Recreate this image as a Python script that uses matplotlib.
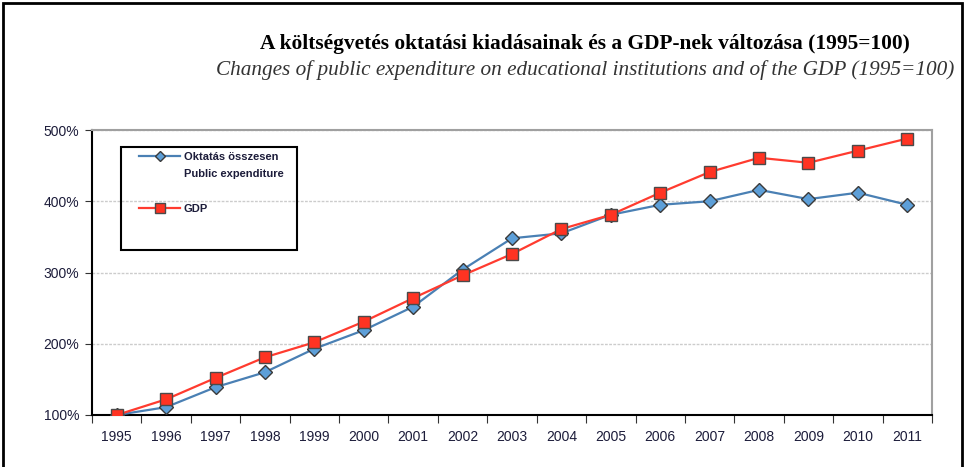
import matplotlib
matplotlib.use("Agg")
import matplotlib.pyplot as plt
from matplotlib.patches import Rectangle
from matplotlib.lines import Line2D
import numpy as np

YEARS = ["1995", "1996", "1997", "1998", "1999", "2000", "2001", "2002", "2003",
         "2004", "2005", "2006", "2007", "2008", "2009", "2010", "2011"]
EDUCATION = [100, 111, 139, 160, 193, 219, 252, 304, 348, 355, 381, 395, 400, 416, 403, 412, 395]
GDP = [100, 122, 152, 181, 202, 231, 264, 296, 326, 361, 381, 412, 441, 461, 454, 471, 488]
Y_TICKS = [100, 200, 300, 400, 500]

TITLE_HU = "A költségvetés oktatási kiadásainak és a GDP-nek változása (1995=100)"
TITLE_EN = "Changes of public expenditure on educational institutions and of the GDP (1995=100)"
LEGEND_LABELS = ["Oktatás összesen", "Public expenditure", "", "GDP"]

SANS = ["Liberation Sans", "DejaVu Sans"]
SERIF = ["Liberation Serif", "DejaVu Serif"]
TEXT_COL = "#1c1c3a"
BLUE, BLUE_FILL = "#4a80b4", "#5d9fd8"
RED, RED_FILL = "#ff3b2f", "#ff3322"

fig = plt.figure(figsize=(9.66, 4.67), dpi=100)
ax = fig.add_axes([92 / 966, 1 - 415 / 467, 840 / 966, 285 / 467])

x = np.arange(len(YEARS))
ax.plot(x, EDUCATION, color=BLUE, lw=1.6, marker="D", ms=7,
        mfc=BLUE_FILL, mec="#3a3a3a", mew=1.0, zorder=3)
ax.plot(x, GDP, color=RED, lw=1.6, marker="s", ms=9,
        mfc=RED_FILL, mec="#4a4a4a", mew=1.0, zorder=4)

ax.set_xlim(-0.5, len(YEARS) - 0.5)
ax.set_ylim(100, 500)
ax.set_yticks(Y_TICKS)
ax.set_yticklabels([f"{v}%" for v in Y_TICKS])
ax.set_xticks(x)
ax.set_xticklabels(YEARS)
ax.set_xticks(np.arange(-0.5, len(YEARS)), minor=True)
ax.tick_params(axis="x", which="major", length=0, pad=11)
ax.tick_params(axis="x", which="minor", length=6, width=0.8, color="#333333")
ax.tick_params(axis="y", length=5, width=0.8, color="#333333", pad=4)
for lab in ax.get_xticklabels() + ax.get_yticklabels():
    lab.set_family(SANS)
    lab.set_fontsize(10)
    lab.set_color(TEXT_COL)

ax.grid(axis="y", color="#cccccc", ls=(0, (2, 1)), lw=1.0)
ax.set_axisbelow(True)
for side in ["left", "bottom"]:
    ax.spines[side].set_color("black")
    ax.spines[side].set_linewidth(1.5)
for side in ["top", "right"]:
    ax.spines[side].set_color("#a0a0a0")
    ax.spines[side].set_linewidth(1.5)

# legend box
ax.add_patch(Rectangle((29 / 840, 1 - 120 / 285), 176 / 840, 103 / 285,
                       transform=ax.transAxes, fill=False, ec="black", lw=1.5, zorder=5))
handles = [Line2D([], [], color=BLUE, lw=1.6, marker="D", ms=5.5, mfc=BLUE_FILL, mec="#3a3a3a"),
           Line2D([], [], lw=0),
           Line2D([], [], lw=0),
           Line2D([], [], color=RED, lw=1.6, marker="s", ms=7, mfc=RED_FILL, mec="#4a4a4a")]
leg = ax.legend(handles, LEGEND_LABELS, loc="upper left",
                bbox_to_anchor=(45 / 840, 1 - 20 / 285), frameon=False,
                handlelength=3.7, handletextpad=0.3, labelspacing=0.65,
                borderpad=0.2, borderaxespad=0,
                prop={"family": SANS, "weight": "bold", "size": 8})
for t in leg.get_texts():
    t.set_color(TEXT_COL)

fig.text(585 / 966, 1 - 44 / 467, TITLE_HU, ha="center", va="center",
         family=SERIF, weight="bold", fontsize=15.4, color="black")
fig.text(585 / 966, 1 - 70 / 467, TITLE_EN, ha="center", va="center",
         family=SERIF, style="italic", fontsize=15.3, color="#333333")

# page frame
fig.add_artist(Rectangle((3 / 966, -0.05), 959 / 966, 1.05 - 3 / 467,
                         transform=fig.transFigure, fill=False, ec="black", lw=2.0))

fig.savefig("out.png", dpi=100)
